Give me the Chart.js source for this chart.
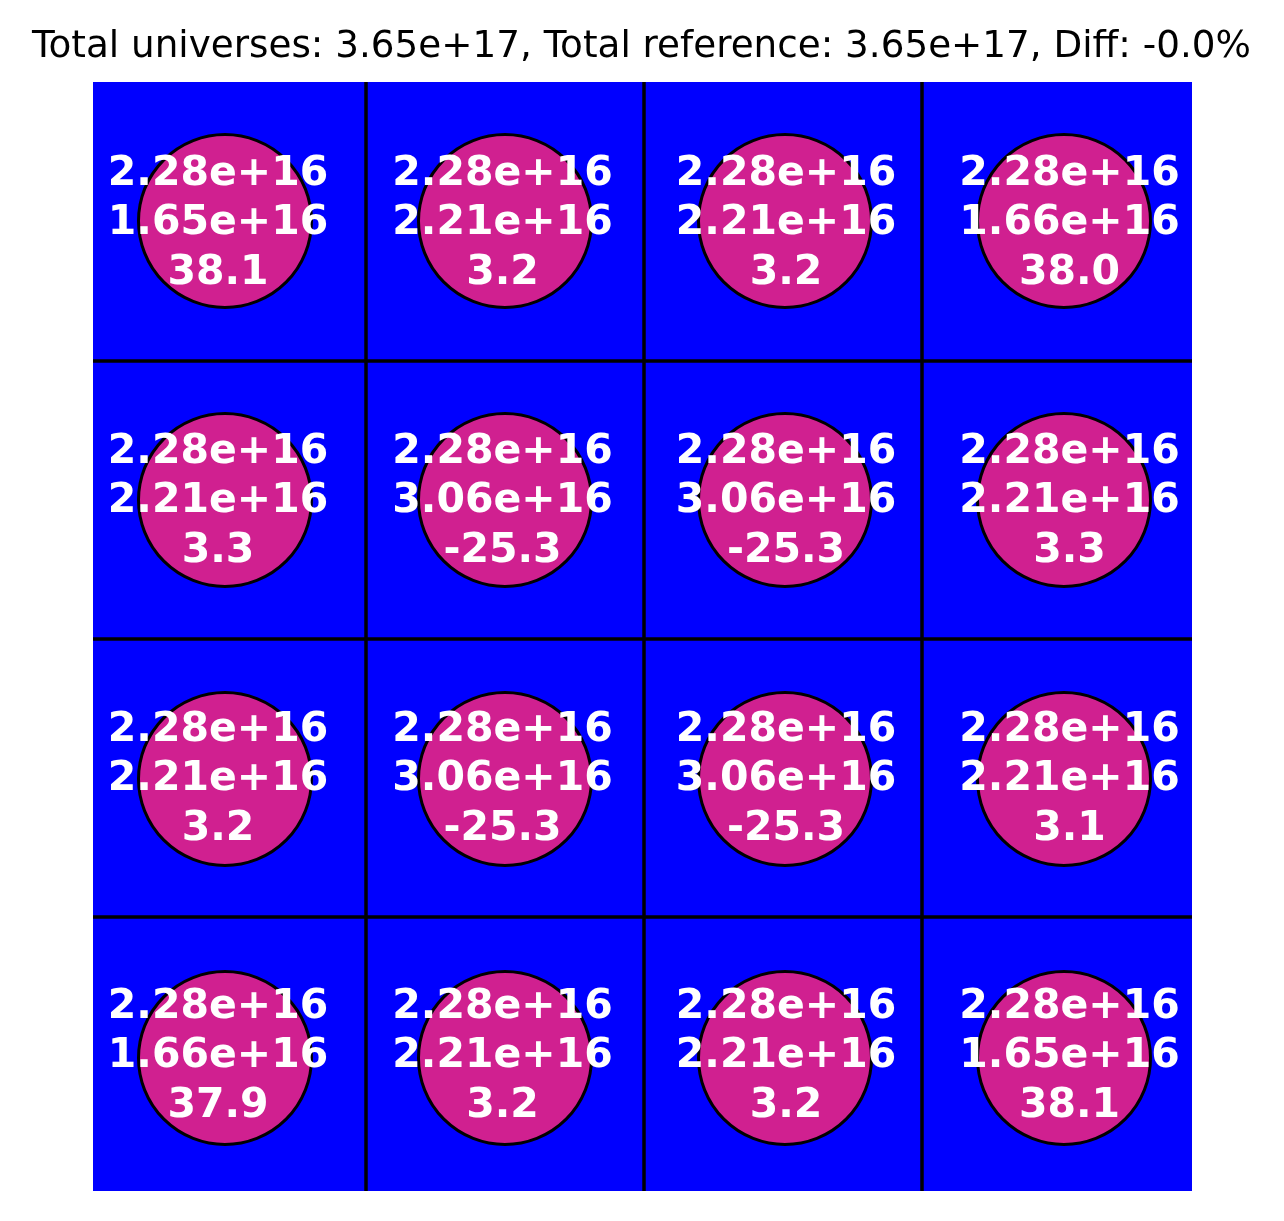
<!DOCTYPE html>
<html>
<head>
<meta charset="utf-8">
<script src="https://cdn.jsdelivr.net/npm/chart.js@4"></script>
<style>
  html, body { margin: 0; padding: 0; background: #ffffff; }
  #wrap { width: 1284px; height: 1221px; }
</style>
</head>
<body>
<div id="wrap"><canvas id="c" width="1284" height="1221"></canvas></div>
<script>
// ---- data ----
const titleText = "Total universes: 3.65e+17, Total reference: 3.65e+17, Diff: -0.0%";
const rowsCount = 4;
const colsCount = 4;
// universes per cell (row-major)
const universes = [
  "2.28e+16", "2.28e+16", "2.28e+16", "2.28e+16",
  "2.28e+16", "2.28e+16", "2.28e+16", "2.28e+16",
  "2.28e+16", "2.28e+16", "2.28e+16", "2.28e+16",
  "2.28e+16", "2.28e+16", "2.28e+16", "2.28e+16"
];
// reference per cell (row-major)
const reference = [
  "1.65e+16", "2.21e+16", "2.21e+16", "1.66e+16",
  "2.21e+16", "3.06e+16", "3.06e+16", "2.21e+16",
  "2.21e+16", "3.06e+16", "3.06e+16", "2.21e+16",
  "1.66e+16", "2.21e+16", "2.21e+16", "1.65e+16"
];
// diff percent per cell (row-major)
const diffPct = [
  "38.1", "3.2", "3.2", "38.0",
  "3.3", "-25.3", "-25.3", "3.3",
  "3.2", "-25.3", "-25.3", "3.1",
  "37.9", "3.2", "3.2", "38.1"
];

// ---- image-space geometry (image units) ----
const imgWidth = 1099;
const imgHeight = 1109;
const cellEdgesX = [273, 551, 829];
const cellEdgesY = [279, 557, 835];
const circleCentersX = [132, 412, 692, 971];
const circleCentersY = [139, 418, 697, 976];
const labelCentersX = [125, 409.5, 693, 976.5];
const labelCentersY = [137, 415, 693, 970];

const circlePoints = [];
for (let r = 0; r < rowsCount; r++) {
  for (let c = 0; c < colsCount; c++) {
    circlePoints.push({ x: circleCentersX[c], y: circleCentersY[r] });
  }
}

const gridPlugin = {
  id: 'cellGrid',
  beforeDatasetsDraw(chart) {
    const { ctx, chartArea, scales } = chart;
    ctx.save();
    ctx.fillStyle = '#0000ff';
    ctx.fillRect(chartArea.left, chartArea.top, chartArea.right - chartArea.left, chartArea.bottom - chartArea.top);
    ctx.strokeStyle = '#000000';
    ctx.lineWidth = 3.5;
    cellEdgesX.forEach(v => {
      const px = scales.x.getPixelForValue(v);
      ctx.beginPath();
      ctx.moveTo(px, chartArea.top);
      ctx.lineTo(px, chartArea.bottom);
      ctx.stroke();
    });
    cellEdgesY.forEach(v => {
      const py = scales.y.getPixelForValue(v);
      ctx.beginPath();
      ctx.moveTo(chartArea.left, py);
      ctx.lineTo(chartArea.right, py);
      ctx.stroke();
    });
    ctx.restore();
  }
};

const labelPlugin = {
  id: 'cellLabels',
  afterDatasetsDraw(chart) {
    const { ctx, scales } = chart;
    ctx.save();
    ctx.fillStyle = '#ffffff';
    ctx.font = 'bold 41px "DejaVu Sans"';
    ctx.textAlign = 'center';
    ctx.textBaseline = 'alphabetic';
    const lineGap = 49.5;
    const capHalf = 15;
    for (let r = 0; r < rowsCount; r++) {
      for (let c = 0; c < colsCount; c++) {
        const i = r * colsCount + c;
        const px = scales.x.getPixelForValue(labelCentersX[c]);
        const py = scales.y.getPixelForValue(labelCentersY[r]);
        const lines = [universes[i], reference[i], diffPct[i]];
        lines.forEach((t, k) => {
          ctx.fillText(t, px, py + (k - 1) * lineGap + capHalf);
        });
      }
    }
    // title
    ctx.fillStyle = '#000000';
    ctx.font = '37.3px "DejaVu Sans"';
    ctx.textAlign = 'center';
    ctx.fillText(titleText, chart.width / 2 - 0.5, 57);
    ctx.restore();
  }
};

new Chart(document.getElementById('c'), {
  type: 'scatter',
  data: {
    datasets: [{
      data: circlePoints,
      pointStyle: 'circle',
      pointRadius: 86.5,
      pointHoverRadius: 86.5,
      backgroundColor: '#d02090',
      borderColor: '#000000',
      borderWidth: 3,
      clip: false
    }]
  },
  options: {
    responsive: false,
    maintainAspectRatio: false,
    animation: false,
    devicePixelRatio: 1,
    events: [],
    layout: { autoPadding: false, padding: { left: 93, right: 92, top: 82, bottom: 30 } },
    scales: {
      x: { type: 'linear', min: 0, max: imgWidth, display: false },
      y: { type: 'linear', min: 0, max: imgHeight, reverse: true, display: false }
    },
    plugins: {
      legend: { display: false },
      tooltip: { enabled: false },
      title: { display: false }
    }
  },
  plugins: [gridPlugin, labelPlugin]
});
</script>
</body>
</html>
